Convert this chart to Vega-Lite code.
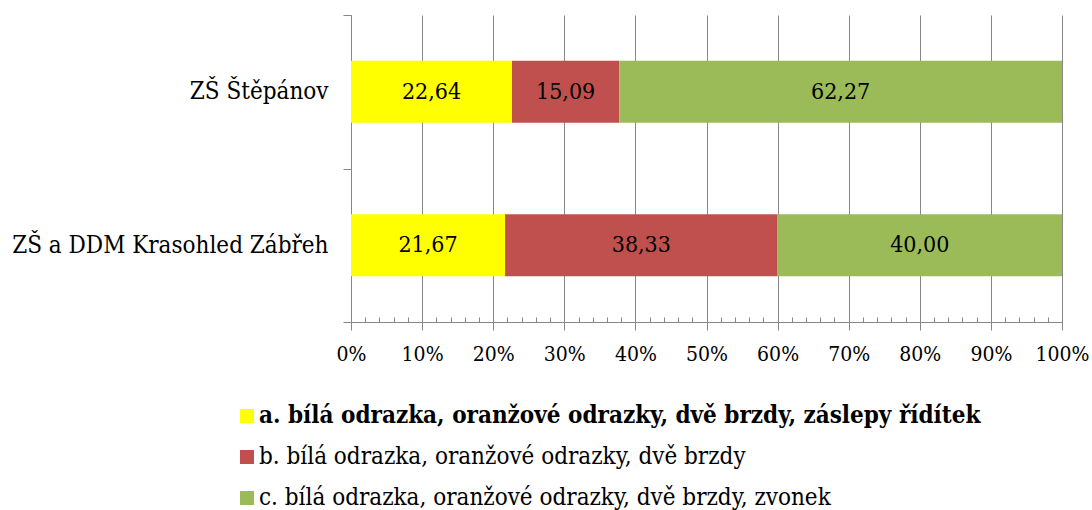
{
  "$schema": "https://vega.github.io/schema/vega-lite/v6.json",
  "width": 711,
  "height": 307,
  "autosize": {"type": "none"},
  "padding": {"left": 351, "top": 15, "right": 30, "bottom": 188},
  "config": {
    "view": {"stroke": null},
    "locale": {"number": {"decimal": ",", "thousands": " ", "grouping": [3], "currency": ["", " Kč"]}}
  },
  "data": {
    "values": [
      {"school": "ZŠ Štěpánov", "cat": "a. bílá odrazka, oranžové odrazky, dvě brzdy, záslepy řídítek", "value": 22.64},
      {"school": "ZŠ Štěpánov", "cat": "b. bílá odrazka, oranžové odrazky, dvě brzdy", "value": 15.09},
      {"school": "ZŠ Štěpánov", "cat": "c. bílá odrazka, oranžové odrazky, dvě brzdy, zvonek", "value": 62.27},
      {"school": "ZŠ a DDM Krasohled Zábřeh", "cat": "a. bílá odrazka, oranžové odrazky, dvě brzdy, záslepy řídítek", "value": 21.67},
      {"school": "ZŠ a DDM Krasohled Zábřeh", "cat": "b. bílá odrazka, oranžové odrazky, dvě brzdy", "value": 38.33},
      {"school": "ZŠ a DDM Krasohled Zábřeh", "cat": "c. bílá odrazka, oranžové odrazky, dvě brzdy, zvonek", "value": 40.00}
    ]
  },
  "transform": [
    {"stack": "value", "groupby": ["school"], "sort": [{"field": "cat", "order": "ascending"}], "as": ["v0", "v1"]},
    {"calculate": "(datum.v0 + datum.v1) / 2", "as": "mid"}
  ],
  "encoding": {
    "y": {
      "field": "school",
      "type": "nominal",
      "sort": ["ZŠ Štěpánov", "ZŠ a DDM Krasohled Zábřeh"],
      "scale": {"paddingInner": 0, "paddingOuter": 0},
      "axis": {
        "title": null,
        "tickBand": "extent",
        "domainColor": "#878787",
        "tickColor": "#878787",
        "tickSize": 8,
        "labelFontSize": 24,
        "labelFont": "DejaVu Serif Condensed",
        "labelColor": "#000000",
        "labelPadding": 15,
        "labelLimit": 600
      }
    }
  },
  "layer": [
    {
      "mark": {"type": "bar", "height": {"band": 0.404}},
      "encoding": {
        "x": {
          "field": "v0",
          "type": "quantitative",
          "scale": {"domain": [0, 100], "nice": false},
          "axis": {
            "title": null,
            "values": [0, 2, 4, 6, 8, 10, 12, 14, 16, 18, 20, 22, 24, 26, 28, 30, 32, 34, 36, 38, 40, 42, 44, 46, 48, 50, 52, 54, 56, 58, 60, 62, 64, 66, 68, 70, 72, 74, 76, 78, 80, 82, 84, 86, 88, 90, 92, 94, 96, 98, 100],
            "tickCount": 200,
            "labelExpr": "datum.value % 10 === 0 ? datum.value + '%' : ''",
            "labelFlush": false,
            "labelOverlap": false,
            "labelFontSize": 21,
            "labelFont": "DejaVu Serif Condensed",
            "labelColor": "#000000",
            "labelPadding": 13,
            "domainColor": "#878787",
            "tickColor": "#878787",
            "tickSize": {"condition": {"test": "datum.value % 10 === 0", "value": 8}, "value": -5},
            "grid": true,
            "gridColor": "#878787",
            "gridOpacity": {"condition": {"test": "datum.value % 10 === 0", "value": 1}, "value": 0}
          }
        },
        "x2": {"field": "v1"},
        "color": {
          "field": "cat",
          "type": "nominal",
          "scale": {
            "domain": ["a. bílá odrazka, oranžové odrazky, dvě brzdy, záslepy řídítek", "b. bílá odrazka, oranžové odrazky, dvě brzdy", "c. bílá odrazka, oranžové odrazky, dvě brzdy, zvonek"],
            "range": ["#FFFF00", "#C0504D", "#9BBB59"]
          },
          "legend": {
            "title": null,
            "orient": "none",
            "legendX": -116,
            "legendY": 389,
            "padding": 0,
            "direction": "vertical",
            "symbolType": "square",
            "symbolSize": 196,
            "symbolStrokeWidth": 0,
            "labelFontSize": 24,
            "labelFont": "DejaVu Serif Condensed",
            "labelColor": "#000000",
            "labelLimit": 1000,
            "labelOffset": 0,
            "rowPadding": 17,
            "encode": {
              "labels": {"update": {"fontWeight": {"signal": "indexof(datum.label, 'záslepy') >= 0 ? 'bold' : 'normal'"}}}
            }
          }
        }
      }
    },
    {
      "mark": {"type": "text", "fontSize": 23, "color": "#000000", "font": "DejaVu Serif Condensed"},
      "encoding": {
        "x": {"field": "mid", "type": "quantitative"},
        "text": {"field": "value", "type": "quantitative", "format": ".2f"}
      }
    }
  ]
}
